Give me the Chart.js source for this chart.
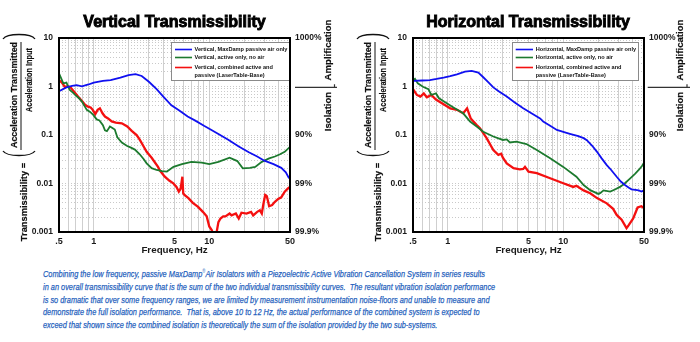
<!DOCTYPE html>
<html>
<head>
<meta charset="utf-8">
<script src="https://cdn.jsdelivr.net/npm/chart.js@4/dist/chart.umd.min.js"></script>
<style>
  html, body { margin: 0; padding: 0; background: #fff; }
  body { width: 700px; height: 342px; position: relative; overflow: hidden; }
  canvas { position: absolute; top: 0; display: block; }
  #cvV { left: 0; }
  #cvH { left: 354px; }
  #caption {
    position: absolute; left: 43px; top: 268px;
    color: #1f5fbd; font: italic 9.8px 'Liberation Sans', Arial, sans-serif;
    -webkit-text-stroke: 0.25px #1f5fbd;
    line-height: 12.75px; white-space: pre; transform-origin: 0 0;
  }
  #caption .ln span { display: inline-block; }
  #caption sup { font-size: 5.5px; line-height: 0; vertical-align: 4px; -webkit-text-stroke: 0; }
</style>
</head>
<body>
<canvas id="cvV" width="350" height="260"></canvas>
<canvas id="cvH" width="346" height="260"></canvas>
<div id="caption"><div class="ln"><span>Combining the low frequency, passive MaxDamp<sup>®</sup>Air Isolators with a Piezoelectric Active Vibration Cancellation System in series results</span></div><div class="ln"><span>in an overall transmissibility curve that is the sum of the two individual transmissibility curves.  The resultant vibration isolation performance</span></div><div class="ln"><span>is so dramatic that over some frequency ranges, we are limited by measurement instrumentation noise-floors and unable to measure and</span></div><div class="ln"><span>demonstrate the full isolation performance.  That is, above 10 to 12 Hz, the actual performance of the combined system is expected to</span></div><div class="ln"><span>exceed that shown since the combined isolation is theoretically the sum of the isolation provided by the two sub-systems.</span></div></div>
<script>
// ---- Axis ticks ----
const freqTicks = [0.5, 0.6, 0.7, 0.8, 0.9, 1, 2, 3, 4, 5, 6, 7, 8, 9, 10, 20, 30, 40, 50];
const freqLabelAt = [0.5, 1, 5, 10, 50];
const freqLabelText = ['.5', '1', '5', '10', '50'];
const transDecades = [0.001, 0.01, 0.1, 1, 10];
const transLabelText = ['0.001', '0.01', '0.1', '1', '10'];
const isolationText = ['99.9%', '99%', '90%', '', '1000%'];

// ---- Vertical transmissibility ----
const vPassiveFreq = [0.5, 0.58, 0.65, 0.71, 0.79, 0.9, 1.0, 1.2, 1.4, 1.7, 2.0, 2.3, 2.6, 3.0, 3.5, 4.0, 4.7, 5.5, 6.5, 7.5, 9, 10, 12, 14.6, 18, 22, 26, 30, 36, 42, 46, 48.5, 50];
const vPassiveT = [0.8, 0.96, 1.03, 1.07, 1.01, 1.1, 1.2, 1.3, 1.36, 1.52, 1.72, 1.8, 1.65, 1.25, 0.88, 0.62, 0.41, 0.32, 0.24, 0.2, 0.155, 0.135, 0.105, 0.08, 0.058, 0.044, 0.036, 0.0295, 0.025, 0.021, 0.017, 0.0135, 0.0125];

const vActiveFreq = [0.5, 0.52, 0.545, 0.58, 0.6, 0.62, 0.66, 0.69, 0.74, 0.79, 0.84, 0.87, 0.93, 0.99, 1.06, 1.12, 1.2, 1.25, 1.3, 1.38, 1.45, 1.52, 1.6, 1.75, 1.93, 2.1, 2.27, 2.5, 2.7, 2.87, 3.17, 3.5, 3.9, 4.3, 4.9, 5.8, 7.0, 8.6, 10, 12, 15, 17.5, 19.5, 22.5, 25, 28.5, 33, 37, 41, 45, 50];
const vActiveT = [1.87, 1.5, 1.16, 1.2, 1.0, 0.85, 0.75, 0.67, 0.58, 0.49, 0.38, 0.33, 0.3, 0.26, 0.21, 0.2, 0.16, 0.125, 0.12, 0.15, 0.14, 0.13, 0.09, 0.07, 0.06, 0.055, 0.05, 0.04, 0.032, 0.026, 0.0207, 0.019, 0.018, 0.0176, 0.022, 0.025, 0.028, 0.027, 0.025, 0.028, 0.034, 0.029, 0.0205, 0.021, 0.022, 0.028, 0.033, 0.036, 0.04, 0.045, 0.057];

const vCombFreq = [0.5, 0.53, 0.56, 0.6, 0.63, 0.67, 0.73, 0.79, 0.84, 0.9, 0.94, 0.98, 1.03, 1.08, 1.13, 1.19, 1.25, 1.33, 1.43, 1.55, 1.75, 1.95, 2.13, 2.35, 2.5, 2.68, 2.87, 3.17, 3.6, 3.74, 4.1, 4.5, 4.88, 5.2, 5.45, 5.65, 5.85, 5.95, 6.1, 6.6, 7.2, 8.0, 8.8, 9.5, 10, 10.5, 11, 11.5, 12, 12.5, 13.2, 13.8, 15, 15.6, 17, 18, 19, 21, 23, 24, 26, 27.4, 28.5, 29.5, 30.5, 31.5, 33, 35, 37, 39.5, 42, 45, 48, 50];
const vCombT = [1.36, 1.2, 0.99, 1.0, 0.96, 0.8, 0.62, 0.5, 0.42, 0.38, 0.37, 0.33, 0.27, 0.33, 0.355, 0.28, 0.24, 0.22, 0.19, 0.18, 0.174, 0.15, 0.122, 0.1, 0.08, 0.06, 0.045, 0.034, 0.022, 0.0185, 0.014, 0.0115, 0.0101, 0.0085, 0.0068, 0.0078, 0.0138, 0.0063, 0.0058, 0.005, 0.004, 0.0033, 0.0026, 0.0021, 0.0013, 0.0011, 0.0008, 0.0009, 0.0016, 0.0019, 0.0021, 0.0021, 0.0024, 0.0022, 0.0024, 0.0019, 0.0025, 0.0024, 0.0026, 0.0022, 0.0026, 0.0028, 0.0024, 0.0039, 0.0058, 0.0055, 0.0034, 0.0036, 0.0042, 0.0048, 0.0052, 0.0068, 0.0079, 0.0085];

const vLabels = [
  ['Vertical, MaxDamp passive air only'],
  ['Vertical, active only, no air'],
  ['Vertical, combined active and', 'passive (LaserTable-Base)']
];

// ---- Horizontal transmissibility ----
const hPassiveFreq = [0.5, 0.6, 0.7, 0.8, 0.92, 1.05, 1.2, 1.41, 1.61, 1.84, 2.03, 2.25, 2.48, 2.8, 3.24, 3.8, 4.5, 5.3, 6.3, 6.7, 7.7, 8.8, 10, 11.4, 13.5, 15, 16, 17.8, 19.6, 21.5, 23.8, 26, 29, 31.5, 34.2, 37, 39, 42, 45, 47.5, 50];
const hPassiveT = [1.3, 1.33, 1.36, 1.43, 1.52, 1.63, 1.78, 2.02, 2.1, 1.93, 1.55, 1.22, 0.96, 0.78, 0.62, 0.47, 0.355, 0.28, 0.22, 0.19, 0.155, 0.127, 0.116, 0.106, 0.095, 0.086, 0.078, 0.06, 0.045, 0.033, 0.024, 0.019, 0.0138, 0.011, 0.0093, 0.0082, 0.0076, 0.0074, 0.0072, 0.0068, 0.0072];

const hActiveFreq = [0.5, 0.52, 0.55, 0.61, 0.68, 0.72, 0.76, 0.79, 0.84, 0.98, 1.12, 1.36, 1.56, 1.78, 2.03, 2.48, 3.0, 3.24, 3.45, 3.93, 4.8, 5.9, 7.7, 10, 13, 15, 17.1, 20.1, 21, 22.3, 25.5, 28, 31, 34, 38, 42, 45, 48, 50];
const hActiveT = [1.36, 1.45, 1.16, 0.99, 0.88, 0.67, 0.7, 0.72, 0.57, 0.45, 0.37, 0.28, 0.19, 0.15, 0.117, 0.093, 0.079, 0.081, 0.07, 0.073, 0.065, 0.049, 0.033, 0.022, 0.0138, 0.0093, 0.0073, 0.0061, 0.0064, 0.0072, 0.0068, 0.0075, 0.0085, 0.01, 0.0128, 0.016, 0.019, 0.023, 0.0268];

const hCombFreq = [0.5, 0.54, 0.58, 0.62, 0.66, 0.72, 0.79, 0.92, 1.05, 1.2, 1.36, 1.47, 1.58, 1.78, 1.9, 2.17, 2.48, 2.74, 2.9, 3.0, 3.24, 3.71, 4.2, 4.5, 4.66, 5.0, 5.9, 7.7, 10, 12.2, 13, 15, 17.1, 19.6, 23.8, 27, 29, 32, 35.3, 37, 40.3, 44, 47.5, 50];
const hCombT = [0.88, 0.67, 0.62, 0.72, 0.6, 0.67, 0.54, 0.43, 0.355, 0.33, 0.28, 0.355, 0.22, 0.16, 0.138, 0.086, 0.049, 0.039, 0.041, 0.034, 0.026, 0.0207, 0.0196, 0.02, 0.022, 0.0176, 0.0163, 0.0128, 0.0101, 0.0085, 0.009, 0.0072, 0.0063, 0.005, 0.0039, 0.003, 0.00225, 0.0018, 0.0012, 0.0014, 0.0019, 0.0032, 0.0034, 0.0031];

const hLabels = [
  ['Horizontal, MaxDamp passive air only'],
  ['Horizontal, active only, no air'],
  ['Horizontal, combined active and', 'passive (LaserTable-Base)']
];

// ---- Styling ----
const FONT = "'Liberation Sans', Arial, Helvetica, sans-serif";
const seriesColors = ['#1010f0', '#1c7a2e', '#f41010'];
const seriesWidths = [1.8, 1.8, 2.3];

// minor + decade positions on the transmissibility axis
const transTicks = [];
transDecades.forEach(d => {
  for (let k = 1; k < 10; k++) {
    const v = +(d * k).toPrecision(3);
    if (v <= 10) transTicks.push(v);
  }
});

const pts = (f, t) => f.map((x, i) => ({ x, y: t[i] }));

function vtext(ctx, text, x, y, font, maxW, stroke) {
  ctx.save();
  ctx.translate(x, y);
  ctx.rotate(-Math.PI / 2);
  ctx.font = font;
  ctx.textAlign = 'center';
  ctx.textBaseline = 'middle';
  if (maxW) ctx.fillText(text, 0, 0, maxW); else ctx.fillText(text, 0, 0);
  if (stroke) {
    ctx.lineWidth = stroke;
    ctx.strokeStyle = ctx.fillStyle;
    if (maxW) ctx.strokeText(text, 0, 0, maxW); else ctx.strokeText(text, 0, 0);
  }
  ctx.restore();
}

function decorations(cfg, labels, title) {
  return {
    id: 'decorations',
    afterDatasetsDraw(chart) {
      const ctx = chart.ctx;
      const L = cfg.legend;
      ctx.save();
      ctx.font = `bold 5.6px ${FONT}`;
      let w = 0;
      labels.forEach(lines => lines.forEach(t => { w = Math.max(w, ctx.measureText(t).width); }));
      const right = L.tx + w + 2;
      ctx.fillStyle = '#fff';
      ctx.fillRect(L.left, L.top, right - L.left, L.bottom - L.top);
      ctx.strokeStyle = '#8a8a8a';
      ctx.lineWidth = 1;
      ctx.strokeRect(Math.round(L.left) + 0.5, L.top + 0.5, Math.round(right - L.left), L.bottom - L.top);
      chart.data.datasets.forEach((ds, i) => {
        const y = L.rows[i];
        ctx.strokeStyle = ds.borderColor;
        ctx.lineWidth = 1.6;
        ctx.beginPath();
        ctx.moveTo(L.lx1, y);
        ctx.lineTo(L.lx2, y);
        ctx.stroke();
        ctx.fillStyle = '#111';
        ctx.textBaseline = 'middle';
        ctx.textAlign = 'left';
        labels[i].forEach((t, k) => ctx.fillText(t, L.tx, y + k * L.gap));
      });
      ctx.restore();
    },
    afterDraw(chart) {
      const ctx = chart.ctx;
      const a = chart.chartArea;
      ctx.save();
      // plot frame
      ctx.strokeStyle = '#000';
      ctx.lineWidth = 2;
      ctx.strokeRect(a.left, a.top, a.right - a.left, a.bottom - a.top);

      // heavy chart heading
      ctx.fillStyle = '#000';
      ctx.strokeStyle = '#000';
      ctx.font = `bold 16px ${FONT}`;
      ctx.textAlign = 'center';
      ctx.textBaseline = 'middle';
      ctx.lineWidth = 0.9;
      ctx.fillText(title, cfg.titleX, cfg.titleY);
      ctx.strokeText(title, cfg.titleX, cfg.titleY);

      // y-axis title: Transmissibility = (Acceleration Transmitted / Acceleration Input)
      const T = cfg.ytitle;
      ctx.fillStyle = '#111';
      vtext(ctx, 'Transmissibility =', T.eqX, T.eqY, `bold 9.3px ${FONT}`, 0, 0.2);
      vtext(ctx, 'Acceleration Transmitted', T.numX, T.numY, `bold 9.3px ${FONT}`, 106, 0.2);
      vtext(ctx, 'Acceleration Input', T.denX, T.denY, `bold 9.3px ${FONT}`, 64, 0.2);
      ctx.strokeStyle = '#111';
      ctx.lineWidth = 1;
      ctx.beginPath();
      ctx.moveTo(T.barX, T.barY1);
      ctx.lineTo(T.barX, T.barY2);
      ctx.stroke();
      ctx.lineWidth = 1.3;
      ctx.beginPath();
      ctx.moveTo(T.pX1, T.openY);
      ctx.bezierCurveTo(T.pX1 + 4, T.openY + 6, T.pX2 - 4, T.openY + 6, T.pX2, T.openY);
      ctx.stroke();
      ctx.beginPath();
      ctx.moveTo(T.pX1, T.closeY);
      ctx.bezierCurveTo(T.pX1 + 4, T.closeY - 6, T.pX2 - 4, T.closeY - 6, T.pX2, T.closeY);
      ctx.stroke();

      // right side: Amplification / Isolation
      const S = cfg.side;
      ctx.strokeStyle = '#333';
      ctx.lineWidth = 1.2;
      ctx.beginPath();
      ctx.moveTo(S.x1, S.lineY);
      ctx.lineTo(S.x2, S.lineY);
      ctx.moveTo(S.tickX, S.lineY - 3);
      ctx.lineTo(S.tickX, S.lineY);
      ctx.stroke();
      ctx.fillStyle = '#111';
      vtext(ctx, 'Amplification', S.textX, S.ampY, `bold 9.6px ${FONT}`, 0, 0.2);
      vtext(ctx, 'Isolation', S.textX, S.isoY, `bold 9.6px ${FONT}`, 0, 0.2);
      ctx.restore();
    }
  };
}

function makeChart(id, title, series, labels, cfg) {
  const canvas = document.getElementById(id);
  const W = canvas.width;
  const tickFont = { family: FONT, size: 8.5, weight: 'bold' };
  return new Chart(canvas, {
    type: 'line',
    data: {
      datasets: series.map((s, i) => ({
        label: labels[i].join(' '),
        data: pts(s[0], s[1]),
        borderColor: seriesColors[i],
        borderWidth: seriesWidths[i],
        pointRadius: 0,
        tension: 0,
        fill: false,
        yAxisID: 'y'
      }))
    },
    options: {
      responsive: false,
      animation: false,
      devicePixelRatio: 1,
      layout: { padding: { top: 38, left: 0, right: 0, bottom: 0 } },
      events: [],
      plugins: {
        legend: { display: false },
        tooltip: { enabled: false },
        title: { display: false }
      },
      scales: {
        x: {
          type: 'logarithmic', min: 0.5, max: 50, position: 'bottom',
          afterBuildTicks: s => { s.ticks = freqTicks.map(v => ({ value: v })); },
          afterFit: s => { s.height = 28; },
          grid: { color: '#cfcfcf', lineWidth: 1, drawTicks: false },
          border: { display: false },
          ticks: {
            autoSkip: false, maxRotation: 0, minRotation: 0, padding: 4, color: '#1a1a1a',
            font: { family: FONT, size: 9, weight: 'bold' },
            callback: v => { const i = freqLabelAt.indexOf(v); return i < 0 ? '' : freqLabelText[i]; }
          },
          title: {
            display: true, text: 'Frequency, Hz', color: '#1a1a1a',
            font: { family: FONT, size: 9.8, weight: 'bold' },
            padding: { top: 0, bottom: 3.4 }
          }
        },
        y: {
          type: 'logarithmic', min: 0.001, max: 10, position: 'left',
          afterBuildTicks: s => { s.ticks = transTicks.map(v => ({ value: v })); },
          afterFit: s => { s.width = 59; },
          grid: { color: '#c9c9c9', lineWidth: 1, drawTicks: false },
          border: { display: false, dash: [1, 2] },
          ticks: {
            autoSkip: false, padding: 6, color: '#1a1a1a', font: tickFont,
            callback: v => { const i = transDecades.indexOf(v); return i < 0 ? '' : transLabelText[i]; }
          }
        },
        y2: {
          type: 'logarithmic', min: 0.001, max: 10, position: 'right',
          afterBuildTicks: s => { s.ticks = transDecades.map(v => ({ value: v })); },
          afterFit: s => { s.width = W - 290; },
          grid: { display: false, drawTicks: false },
          border: { display: false },
          ticks: {
            autoSkip: false, padding: 5, color: '#1a1a1a', font: tickFont,
            callback: v => { const i = transDecades.indexOf(v); return i < 0 ? '' : isolationText[i]; }
          }
        }
      }
    },
    plugins: [decorations(cfg, labels, title)]
  });
}

const yTitleLayout = {
  eqX: 24, eqY: 202, numX: 14.5, numY: 95, denX: 29.5, denY: 80,
  barX: 21, barY1: 42, barY2: 150, pX1: 3, pX2: 35, openY: 151, closeY: 39
};

makeChart('cvV', 'Vertical Transmissibility',
  [[vPassiveFreq, vPassiveT], [vActiveFreq, vActiveT], [vCombFreq, vCombT]], vLabels,
  {
    titleX: 174.5, titleY: 22.7,
    legend: { left: 171, top: 42, bottom: 80, lx1: 175, lx2: 192, tx: 194.5, rows: [49.5, 57.5, 67.5], gap: 8 },
    ytitle: yTitleLayout,
    side: { x1: 295, x2: 337, tickX: 334.5, lineY: 87.3, textX: 328.3, ampY: 50, isoY: 111.5 }
  });

makeChart('cvH', 'Horizontal Transmissibility',
  [[hPassiveFreq, hPassiveT], [hActiveFreq, hActiveT], [hCombFreq, hCombT]], hLabels,
  {
    titleX: 174, titleY: 22.7,
    legend: { left: 158.3, top: 42, bottom: 80, lx1: 161.7, lx2: 179, tx: 181.7, rows: [49.5, 57.5, 67.5], gap: 8 },
    ytitle: yTitleLayout,
    side: { x1: 293.7, x2: 336, tickX: 333, lineY: 87.3, textX: 326, ampY: 50, isoY: 111.5 }
  });

// condense the caption to its set measure
(function () {
  const cap = document.getElementById('caption');
  const first = cap.querySelector('.ln span');
  const w = first.getBoundingClientRect().width;
  if (w > 0) cap.style.transform = `scaleX(${442 / w})`;
})();
</script>
</body>
</html>
